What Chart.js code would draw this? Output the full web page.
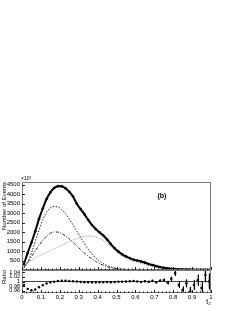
<!DOCTYPE html>
<html>
<head>
<meta charset="utf-8">
<script src="https://cdn.jsdelivr.net/npm/chart.js@4.4.1/dist/chart.umd.min.js"></script>
<style>
    html, body { margin: 0; padding: 0; background: #fff; width: 240px; height: 311px; overflow: hidden; }
    .panel { position: absolute; left: 0; }
    #top-panel { top: 172px; }
    #ratio-panel { top: 262px; }
</style>
</head>
<body>
<div class="panel" id="top-panel"><canvas id="mainChart" width="240" height="106"></canvas></div>
<div class="panel" id="ratio-panel"><canvas id="ratioChart" width="240" height="49"></canvas></div>
<script>
// --- DATA ---
const binCenters = [0.01, 0.03, 0.05, 0.07, 0.09, 0.11, 0.13, 0.15, 0.17, 0.19,
    0.21, 0.23, 0.25, 0.27, 0.29, 0.31, 0.33, 0.35, 0.37, 0.39,
    0.41, 0.43, 0.45, 0.47, 0.49, 0.51, 0.53, 0.55, 0.57, 0.59,
    0.61, 0.63, 0.65, 0.67, 0.69, 0.71, 0.73, 0.75, 0.77, 0.79,
    0.81, 0.83, 0.85, 0.87, 0.89, 0.91, 0.93, 0.95, 0.97, 0.99];

const totalEvents = [300, 900, 1450, 2050, 2700, 3250, 3750, 4100, 4330, 4430,
    4420, 4320, 4130, 3880, 3500, 3220, 2950, 2650, 2380, 2170,
    1990, 1820, 1610, 1370, 1150, 970, 830, 720, 630, 550,
    500, 450, 390, 320, 260, 205, 160, 120, 90, 65,
    50, 40, 30, 25, 20, 15, 12, 10, 8, 6];

const narrowComp = [100, 400, 900, 1500, 2100, 2650, 3050, 3280, 3350, 3330,
    3200, 2980, 2700, 2380, 2050, 1720, 1400, 1100, 850, 640,
    470, 340, 240, 160, 110, 70, 45, 28, 15, 8,
    4, 2, 0, 0, 0, 0, 0, 0, 0, 0,
    0, 0, 0, 0, 0, 0, 0, 0, 0, 0];

const dashDotComp = [150, 400, 700, 1000, 1300, 1570, 1790, 1940, 2010, 2000,
    1930, 1800, 1640, 1460, 1270, 1080, 900, 730, 580, 450,
    340, 250, 180, 125, 85, 55, 35, 20, 10, 5,
    2, 1, 0, 0, 0, 0, 0, 0, 0, 0,
    0, 0, 0, 0, 0, 0, 0, 0, 0, 0];

const wideComp = [180, 380, 520, 640, 740, 840, 940, 1030, 1120, 1210,
    1300, 1400, 1490, 1580, 1660, 1730, 1780, 1800, 1790, 1740,
    1660, 1560, 1410, 1240, 1060, 880, 730, 610, 520, 450,
    390, 340, 290, 240, 195, 155, 120, 95, 70, 52,
    40, 30, 22, 17, 13, 10, 8, 6, 5, 4];

const ratioValues = [0.985, 0.968, 0.962, 0.965, 0.975, 0.984, 0.991, 0.996, 0.999, 1.002,
    1.003, 1.003, 1.002, 1.001, 1.000, 0.998, 0.997, 0.997, 0.996, 0.996,
    0.997, 0.997, 0.998, 0.997, 0.998, 0.999, 0.999, 1.000, 1.001, 1.002,
    1.000, 0.998, 1.001, 0.999, 1.003, 0.997, 1.004, 1.006, 0.995, 1.012,
    1.036, 0.985, 0.963, 0.992, 0.957, 0.985, 1.006, 0.972, 1.028, 1.000];

const ratioErr = [0.003, 0.002, 0.002, 0.002, 0.002, 0.001, 0.001, 0.001, 0.001, 0.001,
    0.001, 0.001, 0.001, 0.001, 0.001, 0.001, 0.001, 0.001, 0.001, 0.001,
    0.001, 0.001, 0.001, 0.002, 0.002, 0.002, 0.002, 0.002, 0.002, 0.002,
    0.003, 0.003, 0.003, 0.004, 0.004, 0.005, 0.006, 0.007, 0.008, 0.010,
    0.012, 0.014, 0.016, 0.018, 0.020, 0.022, 0.025, 0.028, 0.032, 0.036];

const ratioSys = [0, 0, 0, 0, 0, 0, 0, 0, 0, 0,
    0, 0, 0, 0, 0, 0, 0, 0, 0, 0,
    0, 0, 0, 0, 0, 0, 0, 0, 0, 0,
    0, 0, 0, 0, 0, 0, 0, 0, 0, 0.008,
    0.010, 0.011, 0.012, 0.015, 0.018, 0.020, 0.022, 0.025, 0.028, 0.030];

const xTicks = [0, 0.1, 0.2, 0.3, 0.4, 0.5, 0.6, 0.7, 0.8, 0.9, 1];
const xTickLabels = ['0', '0.1', '0.2', '0.3', '0.4', '0.5', '0.6', '0.7', '0.8', '0.9', '1'];
const yTicks = [500, 1000, 1500, 2000, 2500, 3000, 3500, 4000, 4500];
const ratioTicks = [0.96, 0.98, 1, 1.02, 1.04];
const ratioTickLabels = ['0.96', '0.98', '1', '1.02', '1.04'];

// --- SETUP ---
Chart.defaults.font.family = '"Liberation Sans", Arial, sans-serif';
Chart.defaults.font.size = 6;
Chart.defaults.color = '#000';

const toPoints = (vals) => binCenters.map((x, i) => ({ x, y: vals[i] }));

// ROOT-like frame with inward ticks
const frameTicks = {
    id: 'frameTicks',
    afterDraw(chart) {
        const { ctx, chartArea: a, scales: { x, y } } = chart;
        ctx.save();
        ctx.strokeStyle = '#777';
        ctx.lineWidth = 1;
        ctx.strokeRect(a.left + 0.5, a.top + 0.5, a.width - 1, a.height - 1);
        ctx.strokeStyle = '#222';
        ctx.beginPath();
        for (let v = 0; v <= 1.0001; v += 0.02) {
            const px = Math.round(x.getPixelForValue(v)) + 0.5;
            const major = Math.abs(v * 10 - Math.round(v * 10)) < 1e-6;
            ctx.moveTo(px, a.bottom);
            ctx.lineTo(px, a.bottom - (major ? 3 : 1.5));
        }
        y.ticks.forEach(t => {
            const py = Math.round(y.getPixelForValue(t.value)) + 0.5;
            ctx.moveTo(a.left, py);
            ctx.lineTo(a.left + 3, py);
        });
        ctx.stroke();
        ctx.restore();
    }
};

const topLabels = {
    id: 'topLabels',
    afterDraw(chart) {
        const { ctx, chartArea: a } = chart;
        ctx.save();
        ctx.fillStyle = '#000';
        ctx.font = '5px "Liberation Sans", Arial, sans-serif';
        ctx.textBaseline = 'bottom';
        ctx.fillText('\u00d710\u00b3', a.left - 1, a.top - 1);
        ctx.font = 'bold 7px "Liberation Sans", Arial, sans-serif';
        ctx.textAlign = 'center';
        ctx.textBaseline = 'middle';
        ctx.fillText('(b)', a.left + a.width * 0.74, a.top + 14);
        ctx.restore();
    }
};

const errorBars = {
    id: 'errorBars',
    beforeDatasetsDraw(chart) {
        const { ctx, chartArea: a, scales: { x, y } } = chart;
        ctx.save();
        ctx.beginPath();
        ctx.rect(a.left, a.top, a.width, a.height);
        ctx.clip();
        ctx.fillStyle = '#bdbdbd';
        binCenters.forEach((c, i) => {
            if (!ratioSys[i]) return;
            const x0 = x.getPixelForValue(c - 0.006), x1 = x.getPixelForValue(c + 0.006);
            const y0 = y.getPixelForValue(ratioValues[i] + ratioSys[i]);
            const y1 = y.getPixelForValue(ratioValues[i] - ratioSys[i]);
            ctx.fillRect(x0, y0, x1 - x0, y1 - y0);
        });
        ctx.restore();
    },
    afterDatasetsDraw(chart) {
        const { ctx, chartArea: a, scales: { x, y } } = chart;
        ctx.save();
        ctx.beginPath();
        ctx.rect(a.left, a.top, a.width, a.height);
        ctx.clip();
        ctx.strokeStyle = '#000';
        ctx.lineWidth = 1;
        ctx.beginPath();
        binCenters.forEach((c, i) => {
            const px = Math.round(x.getPixelForValue(c)) + 0.5;
            ctx.moveTo(px, y.getPixelForValue(ratioValues[i] + ratioErr[i]));
            ctx.lineTo(px, y.getPixelForValue(ratioValues[i] - ratioErr[i]));
        });
        ctx.stroke();
        ctx.restore();
    }
};

// --- MAIN PANEL ---
new Chart(document.getElementById('mainChart'), {
    type: 'line',
    data: {
        datasets: [
            {
                data: toPoints(totalEvents), borderColor: '#000', borderWidth: 2,
                pointRadius: 1.3, pointBackgroundColor: '#000', pointBorderWidth: 0,
                cubicInterpolationMode: 'monotone'
            },
            {
                data: toPoints(narrowComp), borderColor: '#222', borderWidth: 1, borderDash: [1.5, 1.5],
                pointRadius: 0, cubicInterpolationMode: 'monotone'
            },
            {
                data: toPoints(dashDotComp), borderColor: '#222', borderWidth: 1, borderDash: [3, 1.5, 1, 1.5],
                pointRadius: 0, cubicInterpolationMode: 'monotone'
            },
            {
                data: toPoints(wideComp), borderColor: '#999', borderWidth: 1, borderDash: [1, 1],
                pointRadius: 0, cubicInterpolationMode: 'monotone'
            }
        ]
    },
    options: {
        responsive: false,
        devicePixelRatio: 1,
        animation: false,
        events: [],
        layout: { padding: { top: 10, right: 29, bottom: 8, left: 0 } },
        plugins: { legend: { display: false }, tooltip: { enabled: false } },
        scales: {
            x: { type: 'linear', min: 0, max: 1, display: false },
            y: {
                min: 0, max: 4650,
                afterBuildTicks: s => { s.ticks = yTicks.map(v => ({ value: v })); },
                afterFit: s => { s.width = 22; },
                ticks: { padding: 2, autoSkip: false, callback: v => String(v) },
                grid: { display: false, drawTicks: false },
                border: { display: false },
                title: { display: true, text: 'Number of Events', align: 'end', padding: { top: 1, bottom: 0 }, font: { size: 6 } }
            }
        }
    },
    plugins: [frameTicks, topLabels]
});

// --- RATIO PANEL ---
new Chart(document.getElementById('ratioChart'), {
    type: 'line',
    data: {
        datasets: [
            {
                data: toPoints(ratioValues), showLine: false,
                pointRadius: 1.2, pointBackgroundColor: '#000', pointBorderWidth: 0
            },
            {
                data: [{ x: 0, y: 1 }, { x: 1, y: 1 }], borderColor: '#444', borderWidth: 1, pointRadius: 0
            }
        ]
    },
    options: {
        responsive: false,
        devicePixelRatio: 1,
        animation: false,
        events: [],
        layout: { padding: { top: 8, right: 29, bottom: 0, left: 0 } },
        plugins: { legend: { display: false }, tooltip: { enabled: false } },
        scales: {
            x: {
                type: 'linear', min: 0, max: 1,
                afterBuildTicks: s => { s.ticks = xTicks.map(v => ({ value: v })); },
                afterFit: s => { s.height = 18; },
                ticks: { padding: 1, maxRotation: 0, autoSkip: false, callback: (v, i) => xTickLabels[i] },
                grid: { display: false, drawTicks: false },
                border: { display: false },
                title: { display: true, text: 't\u2082', align: 'end', padding: { top: 0, bottom: 5 }, font: { size: 7 } }
            },
            y: {
                min: 0.95, max: 1.05,
                afterBuildTicks: s => { s.ticks = ratioTicks.map(v => ({ value: v })); },
                afterFit: s => { s.width = 22; },
                ticks: { padding: 2, autoSkip: false, font: { size: 5.5 }, callback: (v, i) => ratioTickLabels[i] },
                grid: { display: false, drawTicks: false },
                border: { display: false },
                title: { display: true, text: 'Ratio', align: 'end', padding: { top: 1, bottom: 0 }, font: { size: 6 } }
            }
        }
    },
    plugins: [errorBars, frameTicks]
});
</script>
</body>
</html>
